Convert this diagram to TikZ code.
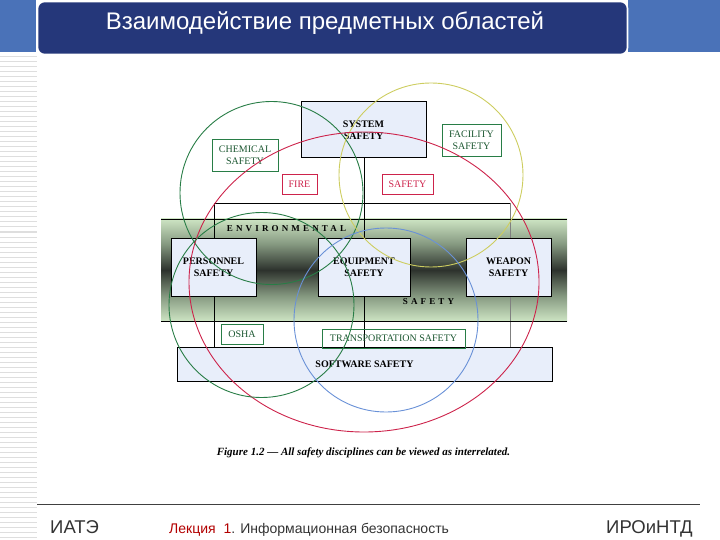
\documentclass[tikz,border=0pt]{standalone}
\usepackage{fontspec}
\setmainfont{Liberation Sans}
\newfontfamily\figfont{Liberation Serif}
\newfontfamily\widefont[LetterSpace=35]{Liberation Serif}
\usepackage{tikz}

\definecolor{titleblue}{RGB}{37,55,122}
\definecolor{sideblue}{RGB}{74,114,184}
\definecolor{paleblue}{RGB}{232,238,250}
\definecolor{stripegray}{RGB}{222,222,222}
\definecolor{safegreen}{RGB}{40,125,70}
\definecolor{saferose}{RGB}{205,35,75}
\definecolor{safeyellow}{RGB}{205,205,95}
\definecolor{safesky}{RGB}{105,145,215}
\definecolor{bandlight}{RGB}{205,228,195}
\definecolor{bandmid}{RGB}{135,155,130}
\definecolor{banddark}{RGB}{45,50,45}

\pgfdeclareverticalshading{bandshade}{100bp}{
  color(0bp)=(bandlight); color(25bp)=(bandlight); color(37bp)=(bandmid); color(50bp)=(banddark);
  color(63bp)=(bandmid); color(75bp)=(bandlight); color(100bp)=(bandlight)}

\begin{document}
\begin{tikzpicture}[x=1pt,y=-1pt]

\tikzstyle{sbox}=[draw=black,line width=1pt,fill=paleblue,inner sep=0pt,align=center,
  font=\figfont\bfseries\fontsize{10}{12}\selectfont]
\tikzstyle{gbox}=[draw=safegreen,line width=.8pt,inner sep=0pt,align=center,text=safegreen!70!black,
  font=\figfont\fontsize{10}{11.5}\selectfont]
\tikzstyle{rbox}=[gbox,draw=saferose,text=saferose]
\tikzstyle{ring}=[line width=.9pt]
\tikzstyle{band}=[draw=black,line width=.9pt]
\tikzstyle{foot}=[inner sep=0pt,anchor=base west]

\useasboundingbox (0,0) rectangle (720,540);

% slide frame
\fill[sideblue] (0,0) rectangle (36,52);
\fill[sideblue] (628,0) rectangle (720,52);
\foreach \y in {57,62,...,537}
  \draw[stripegray,line width=1pt] (0,\y)--(37,\y);

\node[draw=white,line width=1.6pt,fill=titleblue,rounded corners=7pt,minimum width=590pt,minimum height=53pt,inner sep=0pt] (head) at (332.5,28){};
\node[text=white,inner sep=0pt,font=\fontsize{24}{27}\selectfont] (title) at (325,23) {Взаимодействие предметных областей};

% corner points
\node[shape=coordinate] (etl) at (214,203){};
\node[shape=coordinate] (etr) at (510,203){};
\node[shape=coordinate] (ebl) at (214,347){};
\node[shape=coordinate] (ebr) at (510,347){};
\node[shape=coordinate] (etm) at (364,158){};
\node[shape=coordinate] (ebm) at (364,347){};
\node[shape=coordinate] (bnw) at (161,219){};
\node[shape=coordinate] (bse) at (567,321){};
\node[shape=coordinate] (bne) at (567,219){};
\node[shape=coordinate] (bsw) at (161,321){};
\node[shape=coordinate] (fl) at (37,504){};
\node[shape=coordinate] (fr) at (700,504){};

\shade[shading=bandshade] (bnw) rectangle (bse);

\draw[band] (ebl)--(etl)--(etr);
\draw[gray,line width=.7pt] (etr)--(ebr);
\draw[band] (etm)--(ebm);
\draw[band] (bnw)--(bne);
\draw[band] (bsw)--(bse);
\draw[black!75,line width=1pt] (fl)--(fr);

\node[sbox,minimum width=125pt,minimum height=56pt] (sys) at (363.5,130) {SYSTEM\\SAFETY};
\node[sbox,minimum width=85pt,minimum height=58pt] (pers) at (213.5,267) {PERSONNEL\\SAFETY};
\node[sbox,minimum width=92pt,minimum height=58pt] (equip) at (364,267) {EQUIPMENT\\SAFETY};
\node[sbox,minimum width=85pt,minimum height=58pt] (weap) at (508.5,267) {WEAPON\\SAFETY};
\node[sbox,minimum width=375pt,minimum height=34pt] (soft) at (364.5,364) {SOFTWARE SAFETY};

\node[gbox,minimum width=66pt,minimum height=32pt] (chem) at (245,155) {CHEMICAL\\SAFETY};
\node[gbox,minimum width=59pt,minimum height=32pt] (fac) at (471.5,140) {FACILITY\\SAFETY};
\node[rbox,minimum width=35pt,minimum height=20pt] (fire) at (299.5,184) {FIRE};
\node[rbox,minimum width=51pt,minimum height=20pt] (safe) at (407.5,184) {SAFETY};
\node[gbox,fill=white,minimum width=42pt,minimum height=20pt] (osha) at (242,334) {OSHA};
\node[gbox,minimum width=143pt,minimum height=19pt] (trans) at (393.5,338.5) {TRANSPORTATION SAFETY};

\node[inner sep=0pt,font=\widefont\bfseries\fontsize{9}{10}\selectfont] (env) at (286.5,229) {ENVIRONMENTAL};
\node[inner sep=0pt,font=\widefont\bfseries\fontsize{9}{10}\selectfont] (bsafe) at (428.5,302) {SAFETY};

% the five discipline rings
\draw[ring,safegreen] (271.5,193) circle (91.5);
\draw[ring,safeyellow] (431,175) circle (92);
\draw[ring,saferose] (364,282) ellipse (175 and 150);
\draw[ring,safegreen] (261.5,305) circle (92.5);
\draw[ring,safesky] (386,320) circle (92);

\node[inner sep=0pt,font=\figfont\bfseries\itshape\fontsize{11}{13}\selectfont] (cap) at (363.5,453) {Figure 1.2 — All safety disciplines can be viewed as interrelated.};

\node[foot,font=\fontsize{18.5}{22}\selectfont,text=black!80] (lab) at (50,533) {ИАТЭ};
\node[foot,font=\fontsize{14}{17}\selectfont,text=black!80] (lec) at (169,533) {\textcolor{red!70!black}{Лекция}\ \ \textcolor{red!70!black}{1}. Информационная безопасность};
\node[foot,font=\fontsize{18.5}{22}\selectfont,text=black!80] (dep) at (606,533) {ИРОиНТД};

\end{tikzpicture}
\end{document}
